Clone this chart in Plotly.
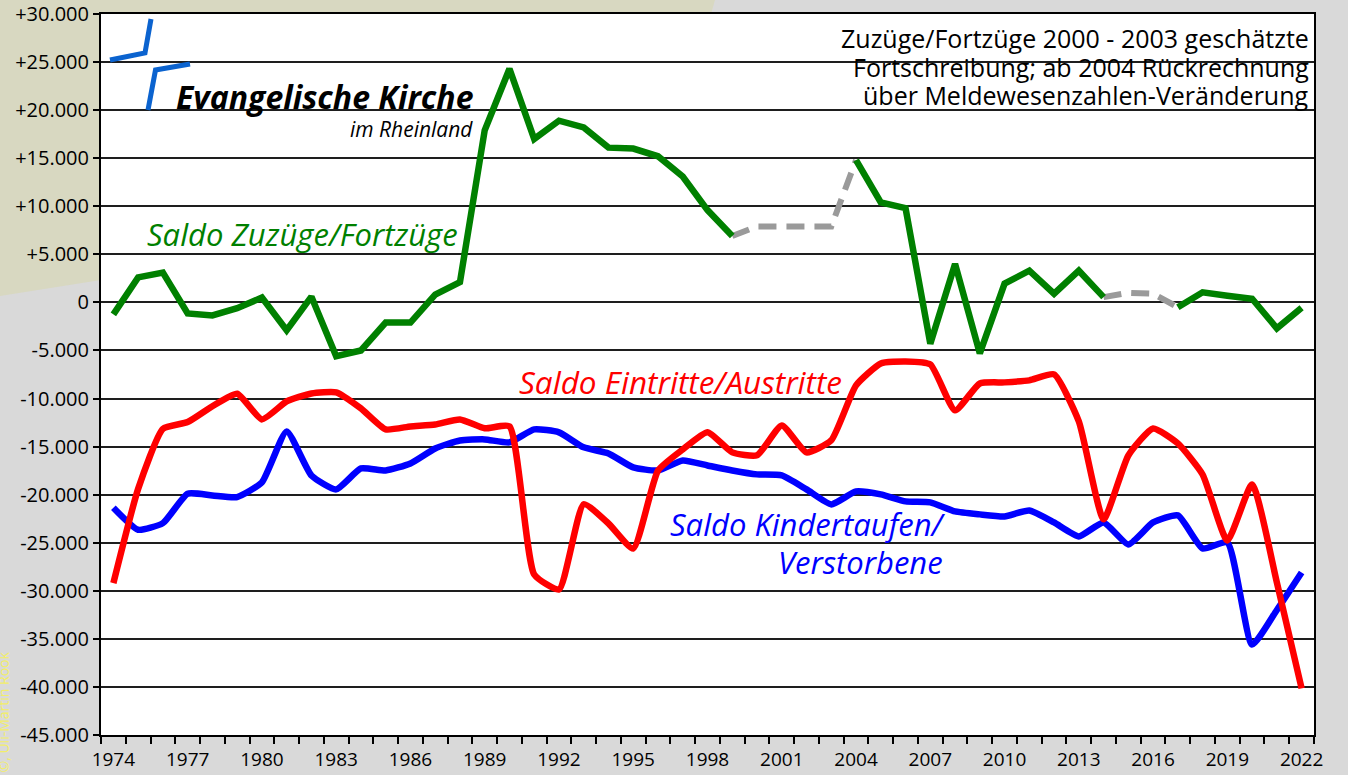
import plotly.graph_objects as go

# ---------------- data ----------------
years = list(range(1974, 2023))

zuzuege = [-1250, 2600, 3100, -1150, -1350, -600, 500, -2900, 600, -5600,
           -5000, -2100, -2100, 800, 2100, 17900, 24300, 17000, 18900, 18200,
           16100, 16000, 15200, 13100, 9600, 6900, None, None, None, None,
           14800, 10400, 9800, -4300, 4000, -5300, 1950, 3300, 900, 3300,
           550, None, None, -500, 1050, 700, 380, -2700, -550]

zuzuege_geschaetzt = [None] * 25 + [6900, 7900, 7900, 7900, 7900, 14800] + \
                     [None] * 9 + [550, 1000, 900, -500] + [None] * 5

eintritte = [-29200, -19400, -13150, -12450, -10800, -9500, -12170, -10300, -9470, -9360,
             -11030, -13210, -12900, -12700, -12170, -13100, -12900, -28300, -29860, -21000,
             -23000, -25600, -17500, -15300, -13500, -15600, -15900, -12800, -15600, -14350,
             -8630, -6350, -6140, -6450, -11230, -8430, -8320, -8110, -7490, -12380,
             -22570, -15920, -13110, -14670, -17900, -24760, -18930, -29130, -40150]

taufen = [-21360, -23650, -22960, -19900, -20080, -20250, -18720, -13420, -18000, -19450,
          -17270, -17480, -16750, -15190, -14360, -14250, -14560, -13210, -13520, -15080,
          -15710, -17170, -17480, -16440, -16960, -17480, -17890, -18000, -19450, -21010,
          -19660, -19970, -20700, -20800, -21740, -22050, -22260, -21640, -22890, -24340,
          -22890, -25180, -22890, -22160, -25590, -24970, -35600, -32000, -28100]

x_tick_years = list(range(1974, 2023, 3))
x_tick_text = [str(y) for y in x_tick_years]
y_tick_vals = list(range(30000, -45001, -5000))
y_tick_text = ["+30.000", "+25.000", "+20.000", "+15.000", "+10.000", "+5.000", "0",
               "-5.000", "-10.000", "-15.000", "-20.000", "-25.000", "-30.000",
               "-35.000", "-40.000", "-45.000"]

note_lines = ["Zuzüge/Fortzüge 2000 - 2003 geschätzte",
              "Fortschreibung; ab 2004 Rückrechnung",
              "über Meldewesenzahlen-Veränderung"]

# ---------------- layout geometry (pixels) ----------------
W, H = 1348, 775
L, R, T, B = 101, 1314, 14, 735


def px(x):
    return (x - L) / (R - L)


def py(y):
    return (B - y) / (B - T)


FONT = "Open Sans"

fig = go.Figure()

fig.add_trace(go.Scatter(x=years, y=zuzuege_geschaetzt, mode="lines",
                         line=dict(color="#9a9a9a", width=6, dash="18px,10px"),
                         connectgaps=False, hoverinfo="skip", showlegend=False))
fig.add_trace(go.Scatter(x=years, y=zuzuege, mode="lines",
                         line=dict(color="#008000", width=6.5),
                         connectgaps=False, showlegend=False))
fig.add_trace(go.Scatter(x=years, y=taufen, mode="lines",
                         line=dict(color="#0000ff", width=6.5, shape="spline", smoothing=0.5),
                         showlegend=False))
fig.add_trace(go.Scatter(x=years, y=eintritte, mode="lines",
                         line=dict(color="#ff0000", width=6.5, shape="spline", smoothing=0.5),
                         showlegend=False))

shapes = []
# beige background wedge (top-left)
pts = [(0, 0), (715, 0), (711, 14), (101, 14), (101, 280), (0, 296)]
path = "M " + " L ".join(f"{px(a)},{py(b)}" for a, b in pts) + " Z"
shapes.append(dict(type="path", xref="paper", yref="paper", path=path,
                   fillcolor="#d8d8c1", line=dict(width=0), layer="below"))

# logo strokes
logo1 = [(110, 60), (145, 53), (151, 19)]
logo2 = [(148, 110), (155.5, 70), (190, 64)]
for stroke in (logo1, logo2):
    p = "M " + " L ".join(f"{px(a)},{py(b)}" for a, b in stroke)
    shapes.append(dict(type="path", xref="paper", yref="paper", path=p,
                       line=dict(color="#0b63cf", width=5)))

annotations = [
    dict(text="<b><i>Evangelische Kirche</i></b>", x=px(476), y=py(97),
         xanchor="right", yanchor="middle", font=dict(family=FONT, size=32, color="black")),
    dict(text="<i>im Rheinland</i>", x=px(475), y=py(129),
         xanchor="right", yanchor="middle", font=dict(family=FONT, size=21, color="black")),
    dict(text="<i>Saldo Zuzüge/Fortzüge</i>", x=px(145), y=py(234),
         xanchor="left", yanchor="middle", font=dict(family=FONT, size=31, color="#008000")),
    dict(text="<i>Saldo Eintritte/Austritte</i>", x=px(517), y=py(381),
         xanchor="left", yanchor="middle", font=dict(family=FONT, size=31.5, color="#ff0000")),
    dict(text="<i>Saldo Kindertaufen/</i>", x=px(948), y=py(524),
         xanchor="right", yanchor="middle", font=dict(family=FONT, size=31, color="#0000ff")),
    dict(text="<i>Verstorbene</i>", x=px(945), y=py(562),
         xanchor="right", yanchor="middle", font=dict(family=FONT, size=31, color="#0000ff")),
    dict(text="©, Uli-Martin Rook", x=px(3), y=py(650), textangle=-90,
         xanchor="center", yanchor="top",
         font=dict(family=FONT, size=14, color="#f2ee6a")),
]
for line, yc in zip(note_lines, [38, 67, 95]):
    annotations.append(dict(text=line, x=px(1311), y=py(yc), xanchor="right", yanchor="middle",
                            font=dict(family=FONT, size=25, color="black")))
for a in annotations:
    a.update(xref="paper", yref="paper", showarrow=False)

fig.update_layout(
    width=W, height=H, autosize=False,
    margin=dict(l=L, r=W - R, t=T, b=H - B, pad=0, autoexpand=False),
    paper_bgcolor="#d9d9d9",
    plot_bgcolor="white",
    shapes=shapes,
    annotations=annotations,
    font=dict(family=FONT, color="black"),
    xaxis=dict(
        range=[1973.5, 2022.5], tickmode="array", tickvals=x_tick_years, ticktext=x_tick_text,
        ticks="", showgrid=False, zeroline=False, automargin=False,
        showline=True, linecolor="black", linewidth=2, mirror=True,
        tickfont=dict(family=FONT, size=19, color="black"),
        ticklabelstandoff=6,
        minor=dict(tick0=1973.5, dtick=1, ticks="outside", ticklen=7,
                   tickcolor="black", tickwidth=1.5, showgrid=False),
    ),
    yaxis=dict(
        range=[-45000, 30000], tickmode="array", tickvals=y_tick_vals, ticktext=y_tick_text,
        ticks="outside", ticklen=6, tickcolor="black", tickwidth=1.5, automargin=False,
        showgrid=True, gridcolor="#1e1e1e", gridwidth=1.5, zeroline=False,
        showline=True, linecolor="black", linewidth=2, mirror=True,
        tickfont=dict(family=FONT, size=20, color="black"),
    ),
)

fig.write_html("out.html", config={"displayModeBar": False},
               post_script="document.body.style.margin='0';document.body.style.overflow='hidden';")
